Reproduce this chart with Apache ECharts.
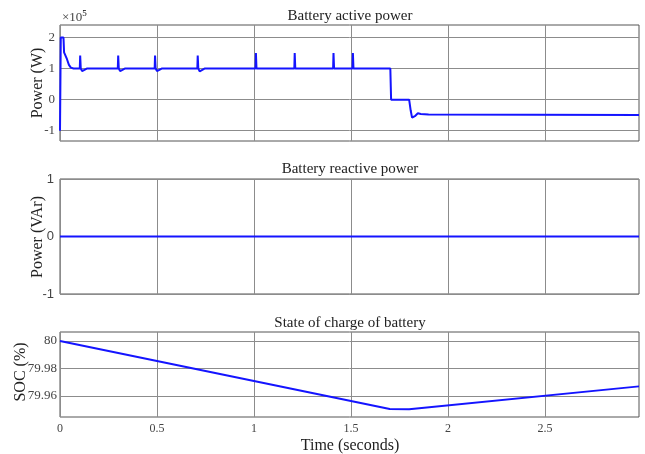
<!DOCTYPE html>
<html><head><meta charset="utf-8">
<script src="https://cdn.jsdelivr.net/npm/echarts@6/dist/echarts.min.js"></script>
<style>html,body{margin:0;padding:0;background:#fff}#c{width:645px;height:454px}</style>
</head><body><div id="c"></div>
<script>
// ---- data ----
const titles = ['Battery active power', 'Battery reactive power', 'State of charge of battery'];
const yNames = ['Power (W)', 'Power (VAr)', 'SOC (%)'];
const xName = 'Time (seconds)';
const xTicks = [0, 0.5, 1, 1.5, 2, 2.5];
const pTicks = [-100000, 0, 100000, 200000];
const qTicks = [-1, 0, 1];
const socTicks = [79.96, 79.98, 80];
// active power [time s, W]
const activePower = [
  [0, -100000], [0.004, 200000], [0.018, 200000], [0.021, 152000], [0.028, 146000], [0.036, 130000],
  [0.046, 112000], [0.056, 103000], [0.07, 100000], [0.102, 100000], [0.104, 142000], [0.107, 100000],
  [0.114, 92000], [0.124, 93000], [0.138, 100000], [0.298, 100000], [0.300, 142000], [0.303, 100000],
  [0.310, 92000], [0.320, 93000], [0.334, 100000], [0.488, 100000], [0.490, 142000], [0.493, 100000],
  [0.500, 92000], [0.510, 93000], [0.524, 100000], [0.708, 100000], [0.710, 142000], [0.713, 100000],
  [0.720, 91000], [0.730, 93000], [0.745, 100000], [1.008, 100000], [1.010, 150000], [1.013, 100000],
  [1.208, 100000], [1.210, 150000], [1.213, 100000], [1.408, 100000], [1.410, 150000], [1.413, 100000],
  [1.508, 100000], [1.510, 150000], [1.513, 100000], [1.703, 100000], [1.707, 0], [1.800, 0],
  [1.808, -35000], [1.815, -58000], [1.822, -62000], [1.832, -52000], [1.845, -44000], [1.86, -46000],
  [1.90, -48000], [2.985, -49000]
];
const reactivePower = [[0, 0], [2.985, 0]];
const soc = [[0, 80.0], [1.70, 79.9505], [1.80, 79.9503], [2.985, 79.9670]];

const serif = '"Liberation Serif", "Times New Roman", serif';
const blue = '#1414ff';
const gridC = '#8c8c8c';

const grids = [
  {left: 60, right: 6, top: 25, height: 116},
  {left: 60, right: 6, top: 179, height: 115},
  {left: 60, right: 6, top: 332, height: 85}
].map(g => Object.assign(g, {show: true, borderColor: '#555', borderWidth: 1, containLabel: false}));

function xAxis(i) {
  return {
    type: 'value', gridIndex: i, min: 0, max: 2.985,
    axisLine: {show: false}, axisTick: {show: false, customValues: xTicks},
    splitLine: {show: true, lineStyle: {color: gridC, width: 1}},
    axisLabel: {show: i === 2, customValues: xTicks, color: '#444', fontFamily: serif, fontSize: 12, margin: 6,
      formatter: v => String(+v.toFixed(2))}
  };
}
function yAxis(i, min, max, ticks, fmt, font, margin) {
  return {
    type: 'value', gridIndex: i, min, max,
    axisLine: {show: false}, axisTick: {show: false, customValues: ticks},
    splitLine: {show: true, lineStyle: {color: gridC}},
    axisLabel: {customValues: ticks, color: '#444', fontFamily: font, fontSize: 13, margin, formatter: fmt}
  };
}
const yAxes = [
  yAxis(0, -133000, 240000, pTicks, v => String(Math.round(v / 100000)), serif, 5),
  yAxis(1, -1, 1, qTicks, v => String(v), '"Liberation Sans", Arial, sans-serif', 6),
  yAxis(2, 79.9447, 80.0066, socTicks, v => String(+v.toFixed(2)), serif, 3)
];

const lineS = (data, i) => ({type: 'line', xAxisIndex: i, yAxisIndex: i, data, showSymbol: false,
  symbol: 'none', animation: false, lineStyle: {color: blue, width: 2}});

const chart = echarts.init(document.getElementById('c'), null, {renderer: 'canvas'});
chart.setOption({
  animation: false,
  backgroundColor: '#fff',
  grid: grids,
  xAxis: [xAxis(0), xAxis(1), xAxis(2)],
  yAxis: yAxes,
  series: [lineS(activePower, 0), lineS(reactivePower, 1), lineS(soc, 2)],
  graphic: [
    {type: 'text', x: 350, y: 16, style: {text: titles[0], align: 'center', verticalAlign: 'middle', font: '15px ' + serif, fill: '#222'}},
    {type: 'text', x: 350, y: 169, style: {text: titles[1], align: 'center', verticalAlign: 'middle', font: '15px ' + serif, fill: '#222'}},
    {type: 'text', x: 350, y: 323, style: {text: titles[2], align: 'center', verticalAlign: 'middle', font: '15px ' + serif, fill: '#222'}},
    {type: 'text', x: 38, y: 83, rotation: Math.PI / 2, style: {text: yNames[0], align: 'center', verticalAlign: 'middle', font: '16px ' + serif, fill: '#222'}},
    {type: 'text', x: 38, y: 237, rotation: Math.PI / 2, style: {text: yNames[1], align: 'center', verticalAlign: 'middle', font: '16px ' + serif, fill: '#222'}},
    {type: 'text', x: 21, y: 372, rotation: Math.PI / 2, style: {text: yNames[2], align: 'center', verticalAlign: 'middle', font: '16px ' + serif, fill: '#222'}},
    {type: 'text', x: 350, y: 446, style: {text: xName, align: 'center', verticalAlign: 'middle', font: '16px ' + serif, fill: '#222'}},
    {type: 'text', x: 62, y: 18, style: {text: '{a|×10}{b|5}', align: 'left', verticalAlign: 'middle',
      rich: {a: {fontFamily: serif, fontSize: 13, fill: '#444', color: '#444'}, b: {fontFamily: serif, fontSize: 9, color: '#444', verticalAlign: 'top', padding: [0, 0, 8, 0]}}}}
  ]
});
</script></body></html>
